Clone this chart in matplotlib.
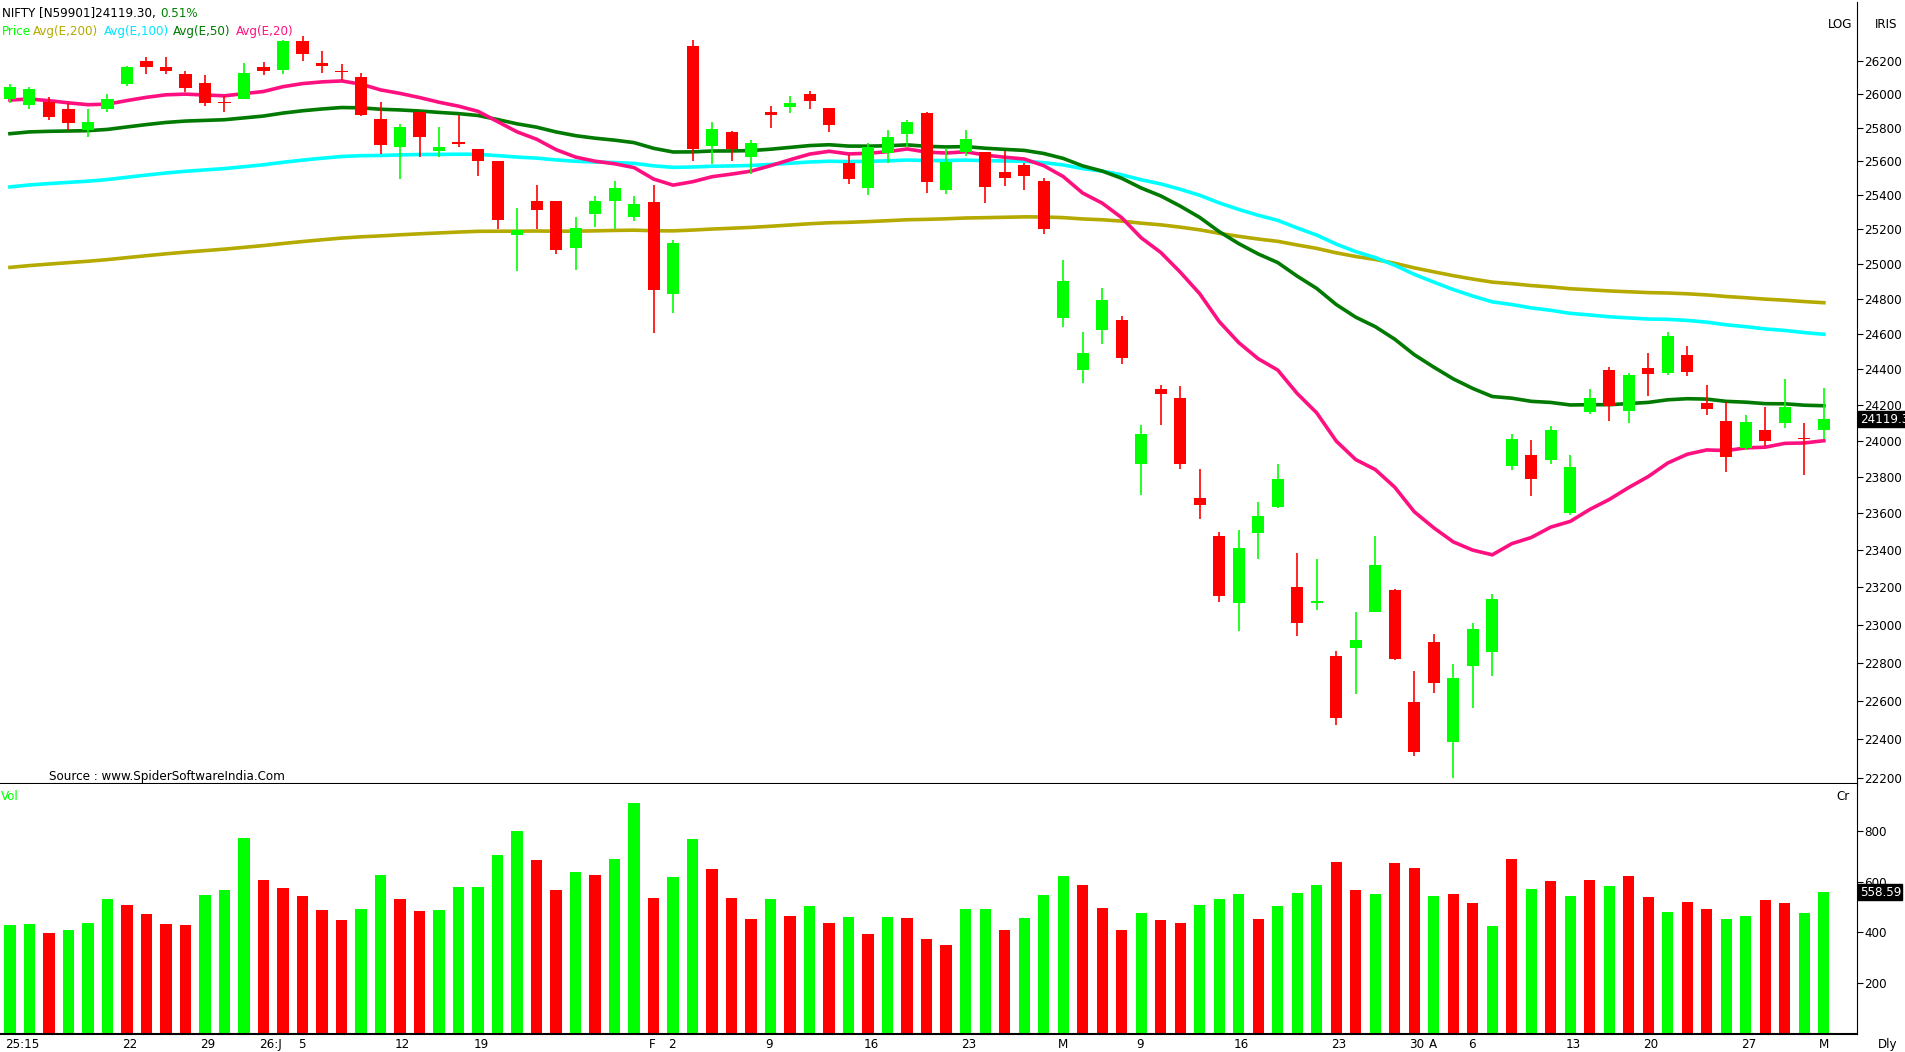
import matplotlib
matplotlib.use("Agg")
import matplotlib.pyplot as plt
import numpy as np
from matplotlib.ticker import FixedLocator, NullLocator

opens = [25972,25938,25952,25912,25784,25912,26059,26200,26166,26120,
         26066,25952,25972,26166,26146,26321,26187,26140,26106,25851,
         25684,25891,25663,25717,25670,25603,25167,25368,25368,25093,
         25288,25368,25274,25362,24825,26294,25690,25771,25623,25891,
         25925,25999,25918,25590,25442,25650,25764,25885,25429,25657,
         25657,25536,25576,25482,24691,24395,24620,24677,23871,24288,
         24240,23683,23475,23118,23493,23635,23202,23118,22832,22878,
         23067,23185,22592,22910,22383,22780,22855,23858,23920,23890,
         23603,24160,24393,24165,24404,24377,24480,24209,24108,23960,
         24061,24099,24009,24061]
highs = [26060,26046,25985,25945,25912,25999,26173,26227,26227,26140,
         26113,25992,26187,26193,26327,26354,26260,26180,26126,25952,
         25824,25891,25804,25878,25670,25603,25328,25462,25368,25274,
         25395,25482,25395,25462,25140,26327,25831,25778,25724,25932,
         25992,26019,25918,25637,25710,25784,25845,25891,25677,25784,
         25657,25663,25590,25502,25020,24612,24860,24700,24087,24308,
         24305,23845,23500,23510,23660,23873,23382,23350,22860,23067,
         23475,23193,22758,22950,22790,23010,23165,24035,24003,24082,
         23920,24290,24410,24380,24490,24610,24530,24313,24213,24140,
         24187,24343,24100,24293]
lows = [25945,25912,25845,25784,25744,25891,26052,26120,26120,26012,
        25932,25891,25972,26113,26120,26200,26126,26086,25871,25643,
        25496,25623,25623,25684,25516,25200,24959,25200,25060,24966,
        25214,25200,25248,24604,24718,25603,25583,25603,25523,25798,
        25885,25912,25771,25469,25402,25590,25683,25415,25409,25630,
        25355,25456,25429,25174,24637,24320,24540,24428,23700,24087,
        23845,23570,23120,22966,23350,23630,22940,23080,22475,22633,
        23067,22812,22315,22640,22200,22560,22730,23838,23697,23870,
        23590,24150,24110,24100,24250,24368,24360,24143,23826,23948,
        23969,24068,23810,24009]
closes = [26046,26032,25865,25825,25831,25972,26166,26166,26140,26039,
          25945,25945,26126,26140,26321,26240,26173,26133,25878,25697,
          25804,25744,25684,25704,25603,25254,25194,25315,25080,25207,
          25368,25442,25348,24852,25120,25670,25791,25670,25710,25878,
          25945,25958,25818,25496,25683,25744,25831,25476,25596,25730,
          25449,25503,25516,25200,24899,24489,24792,24460,24038,24262,
          23871,23648,23155,23414,23587,23790,23008,23125,22508,22920,
          23320,22820,22333,22690,22720,22975,23135,24009,23786,24060,
          23852,24240,24195,24364,24373,24586,24382,24176,23908,24103,
          24000,24186,24007,24119.3]
volume = [429,434,398,411,439,530,507,471,434,429,
          548,567,772,608,576,544,489,448,493,626,
          530,484,489,580,580,704,800,685,567,640,
          626,690,909,535,617,768,649,535,452,530,
          466,503,439,461,393,461,457,375,352,493,
          493,411,457,548,621,589,498,411,475,448,
          439,507,530,553,452,503,557,589,676,567,
          553,672,653,544,553,516,425,690,571,603,
          544,608,585,622,539,480,521,494,453,466,
          526,517,476,558.59]
vol_up = "ggrgggrrrrgggrrrrrggrrgggggrrgrggrggrrrg" \
         "rgrgrgrrrggrgggrrrgrrgggrgggrrgrrgrrgrg" \
         "rgrgrrgrrggrrg"
tick_pos = [0,6,10,13,15,20,24,33,34,39,44,49,54,58,63,68,72,73,75,80,84,89,93]
tick_lab = ["25:15","22","29","26:J","5","12","19","F","2","9","16","23","M",
            "9","16","23","30","A","6","13","20","27","M"]
price_ticks = list(range(22200, 26201, 200))
vol_ticks = [200, 400, 600, 800]
ema_specs = [(200, 24980, "#b4aa00"), (100, 25449, "#00ffff"),
             (50, 25764, "#007a00"), (20, 25965, "#ff1080")]

GREEN = "#00ff00"; RED = "#ff0000"
plt.rcParams['font.family'] = ['DejaVu Sans']
plt.rcParams['font.stretch'] = 'condensed'
FS = 9.5
fig = plt.figure(figsize=(19.06, 10.52), dpi=100)
W, H = 1906, 1052
axr = 1857 / W
ax = fig.add_axes([0, (H - 784) / H, axr, 782 / H])
axv = fig.add_axes([0, (H - 1034) / H, axr, 250 / H])

n = len(closes)
x = np.arange(n)
o = np.array(opens); c = np.array(closes); hi = np.array(highs); lo = np.array(lows)
up = c >= o
cols = np.where(up, GREEN, RED)
ax.vlines(x, lo, hi, colors=cols, linewidth=1.2, zorder=3)
bot = np.minimum(o, c); ht = np.maximum(np.abs(c - o), 6)
ax.bar(x, ht, bottom=bot, width=0.62, color=cols, zorder=4)

for period, seed, col in ema_specs:
    k = 2 / (period + 1)
    e = [seed]
    for v in closes[1:]:
        e.append(e[-1] + k * (v - e[-1]))
    ax.plot(x, e, color=col, lw=2.6, zorder=2)

ax.set_yscale('log')
ax.set_ylim(22169, 26560)
ax.set_xlim(-0.51, 94.7)
for a in (ax, axv):
    a.yaxis.tick_right()
    a.spines['top'].set_visible(False)
    a.spines['left'].set_visible(False)
    a.tick_params(axis='y', direction='out', length=4, labelsize=FS, pad=1)
ax.yaxis.set_major_locator(FixedLocator(price_ticks))
ax.yaxis.set_minor_locator(NullLocator())
ax.set_yticklabels([str(t) for t in price_ticks])
ax.set_xticks([])
ax.spines['bottom'].set_linewidth(1.5)

vcols = [GREEN if ch == 'g' else RED for ch in vol_up[:n]]
axv.bar(x, volume, width=0.58, color=vcols)
axv.set_ylim(0, 985)
axv.set_xlim(-0.51, 94.7)
axv.set_yticks(vol_ticks)
axv.set_yticklabels([str(t) for t in vol_ticks])
axv.set_xticks([t - 0.25 for t in tick_pos])
axv.set_xticklabels(tick_lab, fontsize=FS, ha='left')
axv.tick_params(axis='x', length=0, pad=3)
axv.spines['bottom'].set_linewidth(1.5)

fig.text(0.001, 1 - 17 / H, "NIFTY [N59901]24119.30,", color="black", fontsize=FS)
fig.text(0.084, 1 - 17 / H, "0.51%", color="#008000", fontsize=FS)
hdr = [("Price", GREEN), ("Avg(E,200)", "#b4aa00"), ("Avg(E,100)", "#00e5ff"),
       ("Avg(E,50)", "#007a00"), ("Avg(E,20)", "#ff1080")]
xs = [0.001, 0.0173, 0.0546, 0.0908, 0.1238]
for (t, col), xx in zip(hdr, xs):
    fig.text(xx, 1 - 35 / H, t, color=col, fontsize=FS)
fig.text(1840 / W, 1 - 28 / H, "LOG", fontsize=FS, ha='center')
fig.text(1886 / W, 1 - 28 / H, "IRIS", fontsize=FS, ha='center')
fig.text(49 / W, 1 - 780 / H, "Source : www.SpiderSoftwareIndia.Com", fontsize=FS)
fig.text(1 / W, 1 - 800 / H, "Vol", fontsize=FS, color=GREEN)
fig.text(1843 / W, 1 - 800 / H, "Cr", fontsize=FS, ha='center')
fig.text(1888 / W, 1 - 1048 / H, "Dly", fontsize=FS, ha='center')
ax.annotate("24119.3", xy=(1.0, 24119.3), xycoords=('axes fraction', 'data'),
            xytext=(2, 0), textcoords='offset points', va='center', fontsize=FS,
            color='white', bbox=dict(boxstyle='square,pad=0.1', fc='black', ec='black'))
axv.annotate("558.59", xy=(1.0, 558.59), xycoords=('axes fraction', 'data'),
             xytext=(2, 0), textcoords='offset points', va='center', fontsize=FS,
             color='white', bbox=dict(boxstyle='square,pad=0.1', fc='black', ec='black'))

fig.savefig("out.png", dpi=100)
